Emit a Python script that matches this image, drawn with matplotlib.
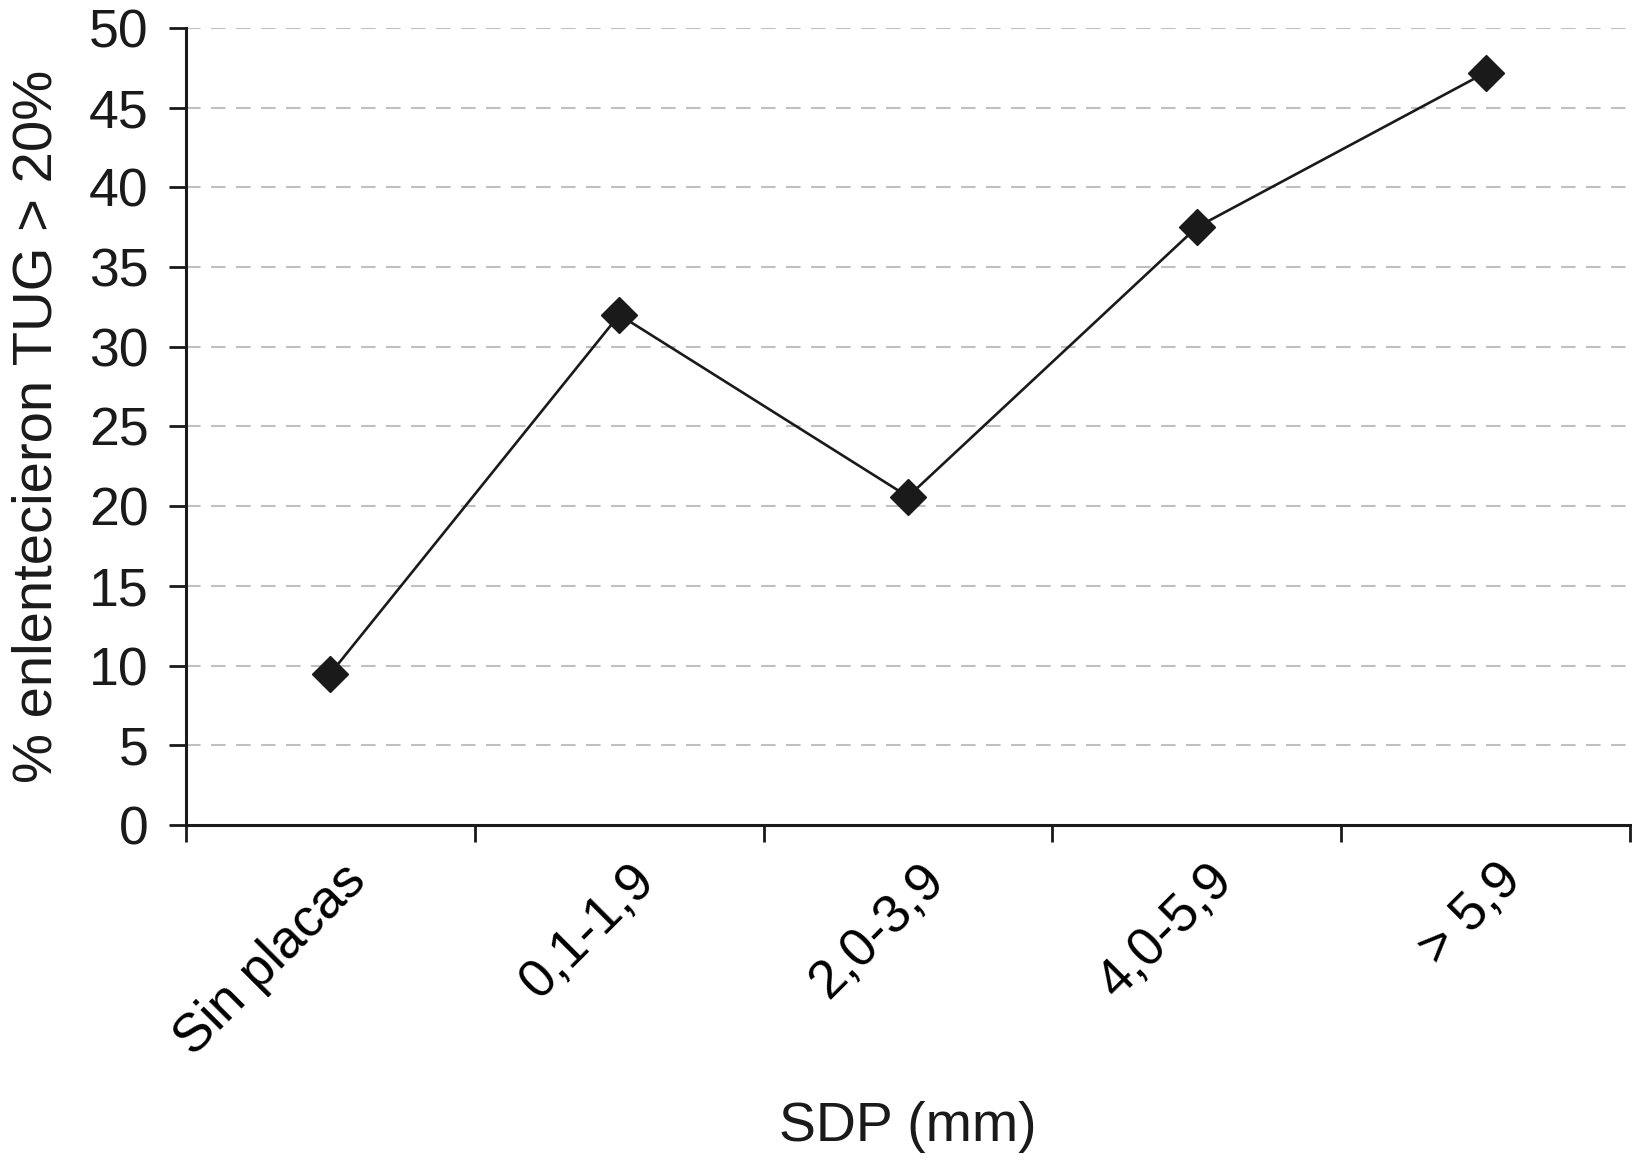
import numpy as np
import matplotlib.pyplot as plt
from matplotlib.transforms import ScaledTranslation

plt.rcParams['font.family'] = ['Liberation Sans', 'DejaVu Sans']

categories = ["Sin placas", "0,1-1,9", "2,0-3,9", "4,0-5,9", "> 5,9"]
values = [9.5, 32.0, 20.6, 37.5, 47.2]
yticks = [0, 5, 10, 15, 20, 25, 30, 35, 40, 45, 50]

fig = plt.figure(figsize=(16.32, 11.6), dpi=100)
ax = fig.add_axes([0.114, 0.2888, 0.8848, 0.6871])

x = np.arange(len(categories))
ax.plot(x, values, color='#1a1a1a', lw=1.9, marker='D', markersize=18,
        markerfacecolor='#1a1a1a', markeredgecolor='#1a1a1a', zorder=3)

ax.set_xlim(-0.5, len(categories) - 0.5)
ax.set_ylim(0, 50)
ax.set_yticks(yticks)
ax.set_yticklabels([str(v) for v in yticks])

# category ticks sit between the categories
ax.set_xticks(np.arange(len(categories) + 1) - 0.5)
ax.set_xticklabels([])
ax.set_xticks(x, minor=True)
ax.set_xticklabels(categories, minor=True, rotation=45, rotation_mode='anchor',
                   ha='right', va='center')
ax.tick_params(axis='x', which='minor', length=0, pad=34, labelsize=38.5)
offset = ScaledTranslation(28 / 100, 0, fig.dpi_scale_trans)
for lab in ax.get_xticklabels(minor=True):
    lab.set_transform(lab.get_transform() + offset)

ax.tick_params(axis='both', which='major', direction='out', length=12, width=2,
               labelsize=38.5, color='#1a1a1a', labelcolor='#1a1a1a')
ax.tick_params(axis='y', pad=15)

for s in ['top', 'right']:
    ax.spines[s].set_visible(False)
for s in ['left', 'bottom']:
    ax.spines[s].set_linewidth(2.2)
    ax.spines[s].set_color('#1a1a1a')

for v in yticks[1:]:
    ax.axhline(v, color='#c0c0c0', lw=1.5, linestyle=(0, (7, 5)), zorder=1)

ax.set_ylabel('% enlentecieron TUG > 20%', fontsize=40.5, color='#1a1a1a', labelpad=18)
ax.set_xlabel('SDP (mm)', fontsize=40, color='#1a1a1a', labelpad=26)

fig.savefig('out.png', dpi=100)
